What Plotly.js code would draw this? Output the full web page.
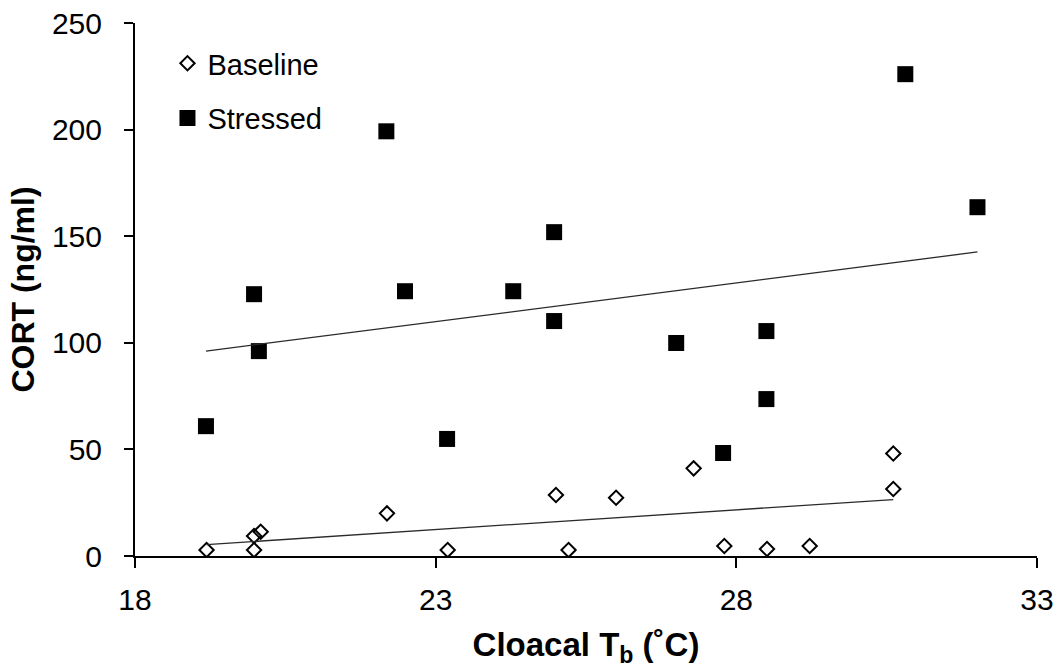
<!DOCTYPE html>
<html>
<head>
<meta charset="utf-8">
<script src="https://cdn.plot.ly/plotly-3.0.1.min.js"></script>
<style>
  html, body { margin: 0; padding: 0; background: #fff; }
  #chart { width: 1061px; height: 668px; }
</style>
</head>
<body>
<div id="chart"></div>
<script>
// Data
const baselineTb   = [19.19, 19.98, 19.98, 20.09, 22.19, 23.20, 25.00, 25.21, 26.00, 27.29, 27.80, 28.51, 29.22, 30.61, 30.61];
const baselineCort = [2.8,   2.8,   9.4,   11.4,  20.0,  2.8,   28.6,  2.8,   27.3,  41.1,  4.7,   3.3,   4.7,   48.1,  31.4];

const stressedTb   = [19.18, 19.98, 20.06, 22.18, 22.49, 23.19, 24.29, 24.97, 24.97, 27.00, 27.78, 28.50, 28.50, 30.81, 32.01];
const stressedCort = [60.9,  122.8, 96.1,  199.2, 124.2, 54.9,  124.2, 151.9, 110.2, 99.9,  48.3,  105.5, 73.6,  226.0, 163.6];

const seriesNames = ["Baseline", "Stressed"];
const xTickVals = [18, 23, 28, 33];
const yTickVals = [0, 50, 100, 150, 200, 250];

// Linear least-squares trendline spanning the series' x extent
function trend(xs, ys) {
  const n = xs.length;
  let sx = 0, sy = 0, sxx = 0, sxy = 0;
  for (let i = 0; i < n; i++) { sx += xs[i]; sy += ys[i]; sxx += xs[i] * xs[i]; sxy += xs[i] * ys[i]; }
  const b = (n * sxy - sx * sy) / (n * sxx - sx * sx);
  const a = (sy - b * sx) / n;
  const x0 = Math.min(...xs), x1 = Math.max(...xs);
  return { x: [x0, x1], y: [a + b * x0, a + b * x1] };
}

const FONT = "Arial, 'Liberation Sans', sans-serif";
const tb = trend(baselineTb, baselineCort);
const ts = trend(stressedTb, stressedCort);

const traces = [
  {
    x: baselineTb, y: baselineCort, type: "scatter", mode: "markers", name: seriesNames[0],
    legendgroup: "b",
    marker: { symbol: "diamond-open", size: 11, color: "#000", line: { width: 2, color: "#000" } }
  },
  {
    x: stressedTb, y: stressedCort, type: "scatter", mode: "markers", name: seriesNames[1],
    legendgroup: "s",
    marker: { symbol: "square", size: 16, color: "#000", line: { width: 0 } }
  },
  {
    x: tb.x, y: tb.y, type: "scatter", mode: "lines", showlegend: false, hoverinfo: "skip",
    line: { color: "#2a2a2a", width: 1.3 }
  },
  {
    x: ts.x, y: ts.y, type: "scatter", mode: "lines", showlegend: false, hoverinfo: "skip",
    line: { color: "#2a2a2a", width: 1.3 }
  }
];

const layout = {
  width: 1061, height: 668,
  margin: { l: 135, r: 24, t: 23, b: 112 },
  paper_bgcolor: "#fff", plot_bgcolor: "#fff",
  font: { family: FONT, color: "#000" },
  showlegend: true,
  legend: {
    x: 0.036, y: 0.972, xanchor: "left", yanchor: "top",
    font: { family: FONT, size: 29, color: "#000" },
    bgcolor: "rgba(0,0,0,0)", itemwidth: 30,
    traceorder: "grouped", tracegroupgap: 14
  },
  xaxis: {
    range: [18, 33], tickvals: xTickVals, ticktext: xTickVals.map(String),
    showgrid: false, zeroline: false,
    showline: true, linecolor: "#000", linewidth: 2,
    ticks: "outside", ticklen: 10, tickwidth: 2, tickcolor: "#000",
    tickfont: { family: FONT, size: 30, color: "#000" },
    ticklabelstandoff: 6,
    title: { text: "<b>Cloacal T<sub>b</sub> (˚C)</b>", font: { family: FONT, size: 33, color: "#000" }, standoff: 18 }
  },
  yaxis: {
    range: [0, 250], tickvals: yTickVals, ticktext: yTickVals.map(String),
    showgrid: false, zeroline: false,
    showline: true, linecolor: "#000", linewidth: 2,
    ticks: "outside", ticklen: 9, tickwidth: 2, tickcolor: "#000",
    tickfont: { family: FONT, size: 30, color: "#000" },
    ticklabelstandoff: 16,
    title: { text: "<b>CORT (ng/ml)</b>", font: { family: FONT, size: 32, color: "#000" }, standoff: 8 }
  }
};

Plotly.newPlot("chart", traces, layout, { displayModeBar: false, staticPlot: true });
</script>
</body>
</html>
